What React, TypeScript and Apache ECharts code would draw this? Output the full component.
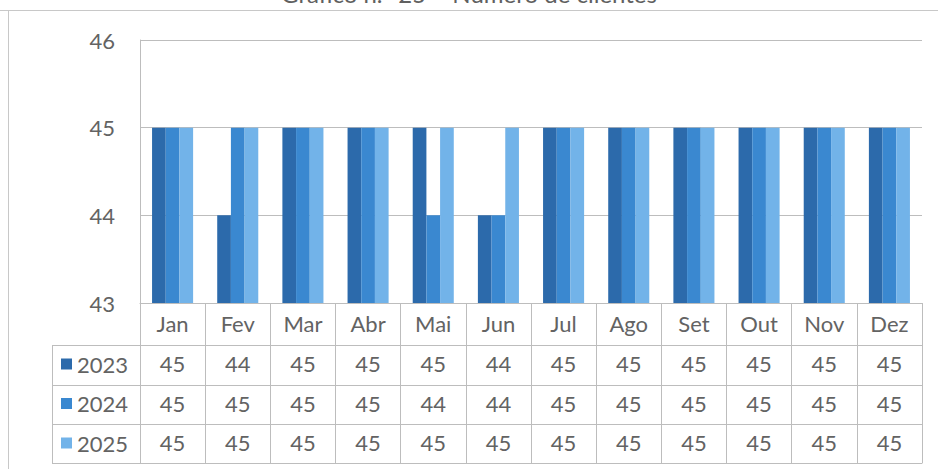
import React, { useEffect, useRef } from "react";
import * as echarts from "echarts";

const months = ["Jan", "Fev", "Mar", "Abr", "Mai", "Jun", "Jul", "Ago", "Set", "Out", "Nov", "Dez"];
const years = ["2023", "2024", "2025"];
const values2023 = [45, 44, 45, 45, 45, 44, 45, 45, 45, 45, 45, 45];
const values2024 = [45, 45, 45, 45, 44, 44, 45, 45, 45, 45, 45, 45];
const values2025 = [45, 45, 45, 45, 45, 45, 45, 45, 45, 45, 45, 45];
const yTicks = { min: 43, max: 46, interval: 1 };
const title = "Gráfico n.º 25 – Número de clientes";

const colors = ["#2C6AAB", "#3A88D0", "#72B3E9"];
const FONT = "Lato, 'Open Sans', sans-serif";
const TXT = "#636363";
const LINE = "#BDBDBD";

export default function App() {
  const ref = useRef<HTMLDivElement>(null);
  useEffect(() => {
    if (!ref.current) return;
    const chart = echarts.init(ref.current, null, { renderer: "svg" });
    const seriesValues = [values2023, values2024, values2025];
    const rowOffsets = [42, 82, 121];
    const gridLeft = 140;
    const gridRight = 16;
    const plotBottom = 303;

    const valueAxes = seriesValues.map((vals, i) => ({
      type: "category",
      gridIndex: 0,
      position: "bottom",
      offset: rowOffsets[i],
      data: months,
      axisLine: { show: true, lineStyle: { color: LINE, width: 1 } },
      axisTick: { show: false },
      splitLine: { show: false },
      axisLabel: {
        interval: 0,
        margin: 7,
        fontSize: 22,
        fontFamily: FONT,
        color: TXT,
        formatter: (_v: string, idx: number) => String(vals[idx]),
      },
    }));

    chart.setOption({
      animation: false,
      backgroundColor: "#ffffff",
      textStyle: { fontFamily: FONT },
      grid: { left: gridLeft, right: gridRight, top: 40, bottom: 469 - plotBottom, containLabel: false },
      legend: {
        orient: "vertical",
        left: 61,
        top: 353,
        padding: 0,
        itemWidth: 11,
        itemHeight: 11,
        itemGap: 17.5,
        icon: "rect",
        selectedMode: false,
        data: years,
        textStyle: { fontSize: 22, lineHeight: 22, color: TXT, fontFamily: FONT },
      },
      xAxis: [
        {
          type: "category",
          data: months,
          position: "bottom",
          axisLine: { show: true, lineStyle: { color: LINE, width: 1 } },
          axisTick: { show: true, interval: 0, length: 160, lineStyle: { color: LINE, width: 1 } },
          axisLabel: { interval: 0, margin: 9, fontSize: 22, fontFamily: FONT, color: TXT },
          splitLine: { show: false },
        },
        ...valueAxes,
        {
          type: "category",
          gridIndex: 0,
          position: "bottom",
          offset: 160,
          data: months,
          axisLine: { show: true, lineStyle: { color: LINE, width: 1 } },
          axisTick: { show: false },
          axisLabel: { show: false },
          splitLine: { show: false },
        },
      ],
      yAxis: {
        type: "value",
        min: yTicks.min,
        max: yTicks.max,
        interval: yTicks.interval,
        axisLine: { show: true, lineStyle: { color: LINE, width: 1 } },
        axisTick: { show: false },
        axisLabel: { margin: 25, fontSize: 22, fontFamily: FONT, color: TXT },
        splitLine: { show: true, lineStyle: { color: LINE, width: 1 } },
      },
      series: seriesValues.map((vals, i) => ({
        name: years[i],
        type: "bar",
        xAxisIndex: 0,
        data: vals,
        barGap: "0%",
        barCategoryGap: "37%",
        itemStyle: { color: colors[i] },
      })),
      graphic: [
        {
          type: "text",
          left: "center",
          top: -19,
          style: { text: title, fontSize: 24, fontFamily: FONT, fill: "#606060" },
        },
        { type: "line", shape: { x1: 0, y1: 10.5, x2: 938, y2: 10.5 }, style: { stroke: "#C8C8C8", lineWidth: 1 } },
        { type: "line", shape: { x1: 8.5, y1: 10, x2: 8.5, y2: 469 }, style: { stroke: "#C8C8C8", lineWidth: 1 } },
        { type: "line", shape: { x1: 52.5, y1: 345, x2: 52.5, y2: 463 }, style: { stroke: LINE, lineWidth: 1 } },
        ...[345, 385, 424, 463].map((y) => ({
          type: "line",
          shape: { x1: 52, y1: y + 0.5, x2: gridLeft, y2: y + 0.5 },
          style: { stroke: LINE, lineWidth: 1 },
        })),
      ],
    });
    return () => chart.dispose();
  }, []);
  return <div ref={ref} style={{ width: 938, height: 469, position: "fixed", left: 0, top: 0 }} />;
}
